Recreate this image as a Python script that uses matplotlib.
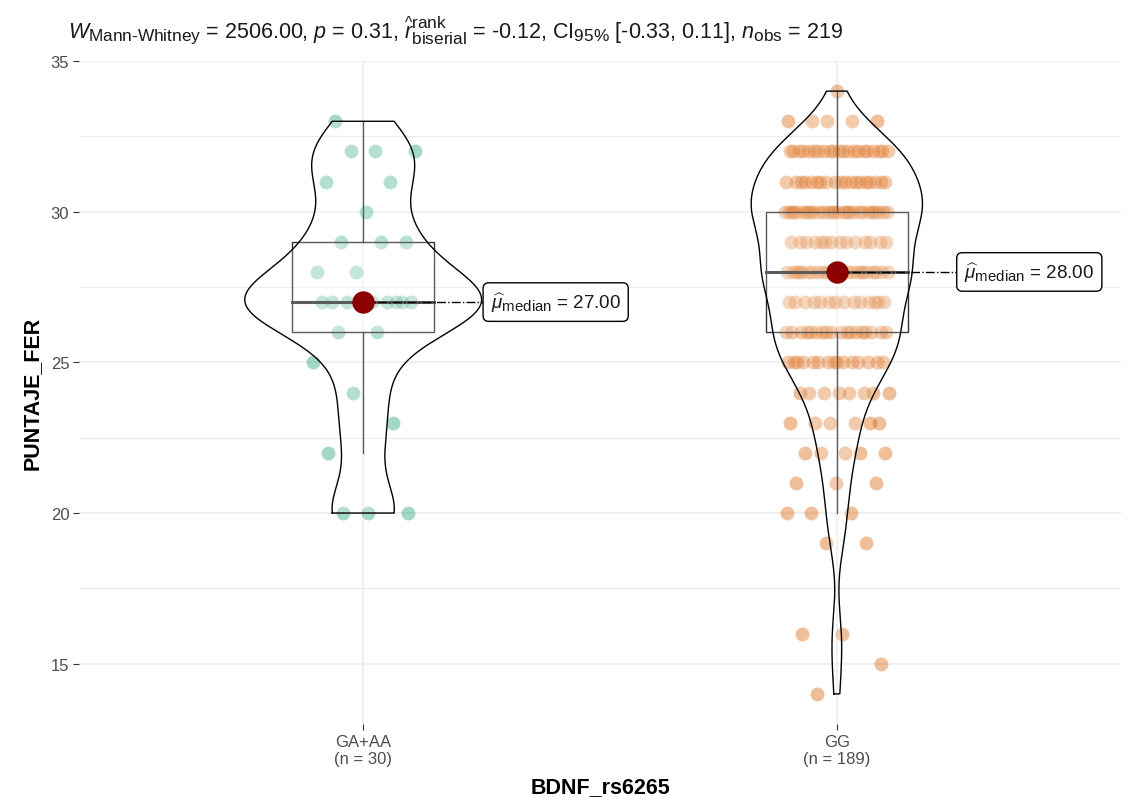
import numpy as np
import matplotlib.pyplot as plt
import matplotlib._mathtext as mathtext_internal
from matplotlib.patches import Rectangle

# groups on the x axis
groups = ["GA+AA", "GG"]
group_sizes = ["(n = 30)", "(n = 189)"]

# PUNTAJE_FER scores and number of subjects per score
ga_scores = [20, 22, 23, 24, 25, 26, 27, 28, 29, 30, 31, 32, 33]
ga_counts = [3, 1, 1, 1, 1, 2, 9, 2, 3, 1, 2, 3, 1]
gg_scores = [14, 15, 16, 19, 20, 21, 22, 23, 24, 25, 26, 27, 28, 29, 30, 31, 32, 33, 34]
gg_counts = [1, 1, 2, 2, 3, 3, 5, 6, 8, 15, 18, 14, 24, 14, 27, 19, 21, 5, 1]

point_colors = ["#1B9E77", "#D95F02"]

subtitle = (r"$W_{\mathrm{Mann" + "\u2010" + r"Whitney}}$ = 2506.00, $p$ = 0.31, "
            r"$\widehat{r}_{\mathrm{biserial}}^{\mathrm{rank}}$ = -0.12, "
            r"CI$_{95\%}$ [-0.33, 0.11], $n_{\mathrm{obs}}$ = 219")

plt.rcParams["font.family"] = ["Liberation Sans", "DejaVu Sans"]
plt.rcParams["mathtext.fontset"] = "custom"
plt.rcParams["mathtext.rm"] = "Liberation Sans"
plt.rcParams["mathtext.it"] = "Liberation Sans:italic"
plt.rcParams["mathtext.bf"] = "Liberation Sans:bold"
# slightly larger sub/superscripts
mathtext_internal.SHRINK_FACTOR = 0.8


def bw_nrd0(x):
    q1, q3 = np.percentile(x, [25, 75])
    lo = min(np.std(x, ddof=1), (q3 - q1) / 1.34)
    return 0.9 * lo * len(x) ** -0.2


def kde(x, grid):
    bw = bw_nrd0(x)
    z = (grid[:, None] - x[None, :]) / bw
    return np.exp(-0.5 * z ** 2).sum(axis=1) / (len(x) * bw * np.sqrt(2 * np.pi))


def jitter(n, amount):
    # evenly spread golden-ratio offsets
    k = np.arange(n)
    return ((k * 0.6180339887 + 0.31) % 1.0 * 2 - 1) * amount


data = [np.repeat(ga_scores, ga_counts).astype(float),
        np.repeat(gg_scores, gg_counts).astype(float)]

fig = plt.figure(figsize=(11.3, 8.04), dpi=100)
ax = fig.add_axes([79 / 1130, 1 - 725 / 804, (1121 - 79) / 1130, (725 - 62) / 804])

grids, dens = [], []
for vals in data:
    g = np.linspace(vals.min(), vals.max(), 512)
    grids.append(g)
    dens.append(kde(vals, g))
dmax = max(d.max() for d in dens)

for i, vals in enumerate(data):
    pos = i + 1
    # jittered points
    ax.scatter(pos + jitter(len(vals), 0.11), vals, s=100, color=point_colors[i],
               alpha=0.4, linewidths=0, zorder=2)

    # boxplot
    q1, med, q3 = np.percentile(vals, [25, 50, 75])
    iqr = q3 - q1
    lo = vals[vals >= q1 - 1.5 * iqr].min()
    hi = vals[vals <= q3 + 1.5 * iqr].max()
    ax.add_patch(Rectangle((pos - 0.15, q1), 0.3, q3 - q1, fc=(1, 1, 1, 0.2),
                           ec="#333333", lw=1.0, zorder=3))
    ax.plot([pos, pos], [q3, hi], color="#333333", lw=1.0, zorder=3)
    ax.plot([pos, pos], [lo, q1], color="#333333", lw=1.0, zorder=3)
    ax.plot([pos - 0.15, pos + 0.15], [med, med], color="#333333", lw=2.2, zorder=3)

    # violin, area scaled
    half = dens[i] / dmax * 0.25
    g = grids[i]
    vx = np.concatenate([pos - half, (pos + half)[::-1], [pos - half[0]]])
    vy = np.concatenate([g, g[::-1], [g[0]]])
    ax.fill(vx, vy, color="white", alpha=0.2, zorder=4)
    ax.plot(vx, vy, color="black", lw=1.0, zorder=4)

    # median point with label
    lx = pos + 0.255
    ax.plot([pos, lx], [med, med], color="black", lw=1.0, ls="-.", zorder=5)
    ax.scatter([pos], [med], s=260, color="darkred", zorder=6, linewidths=0)
    ax.text(lx + 0.014, med, r"$\widehat{\mu}_{\mathrm{median}}$" + f" = {med:.2f}",
            ha="left", va="center", fontsize=13.5, color="#1a1a1a", zorder=7,
            bbox=dict(boxstyle="round,pad=0.4,rounding_size=0.3", fc="white",
                      ec="black", lw=1.0))

ax.set_xlim(0.4, 2.6)
ax.set_ylim(13, 35)
ax.set_xticks([1, 2])
ax.set_xticklabels([f"{g}\n{n}" for g, n in zip(groups, group_sizes)])
ax.set_yticks([15, 20, 25, 30, 35])
ax.set_yticks([17.5, 22.5, 27.5, 32.5], minor=True)
ax.tick_params(axis="both", which="major", length=4, width=0.8, color="#333333",
               labelsize=12, labelcolor="#4D4D4D", pad=3)
ax.tick_params(axis="y", which="minor", length=0)
ax.grid(True, which="major", color="#EBEBEB", lw=1.1, zorder=0)
ax.grid(True, which="minor", axis="y", color="#EBEBEB", lw=0.8, zorder=0)
ax.set_axisbelow(True)
for s in ax.spines.values():
    s.set_visible(False)

ax.set_xlabel("BDNF_rs6265", fontsize=15.5, fontweight="bold", labelpad=7)
ax.set_ylabel("PUNTAJE_FER", fontsize=15.5, fontweight="bold", labelpad=6)

fig.text(68 / 1130, 1 - 30 / 804, subtitle, ha="left", va="center", fontsize=15.5,
         color="#1a1a1a")

fig.savefig("out.png", dpi=100)
